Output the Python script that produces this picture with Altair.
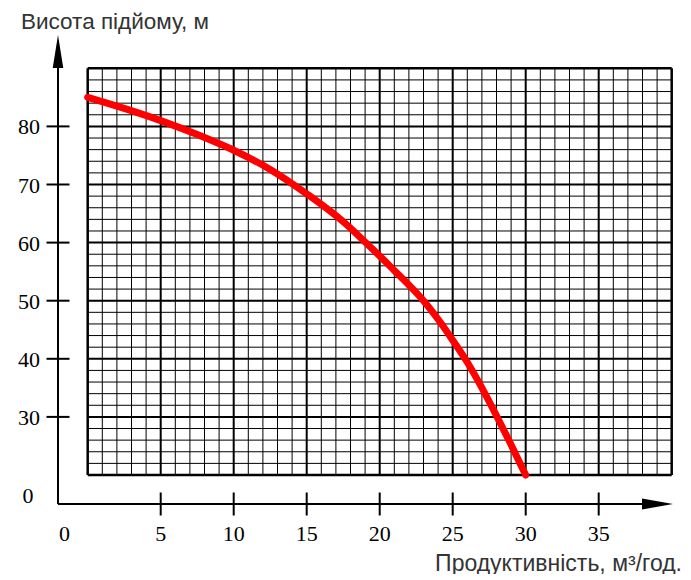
import altair as alt
import pandas as pd

# ---------------- data ----------------
flow = [0, 2.5, 5, 7.5, 10, 12.5, 15, 17.5, 19, 20, 21, 22, 23, 24, 25, 26, 27, 28, 29, 30]
head = [85.0, 83.1, 81.0, 78.6, 75.9, 72.6, 68.4, 63.6, 60.1, 57.7, 55.2, 52.7, 50.0,
        46.8, 43.2, 39.4, 35.0, 30.2, 25.2, 20.0]
x_tick_labels = [5, 10, 15, 20, 25, 30, 35]
y_tick_labels = [30, 40, 50, 60, 70, 80]
x_grid_range = [0, 40]
y_grid_range = [20, 90]
x_minor_step = 1
y_minor_step = 2
x_major_step = 5
y_major_step = 10
x_title = "Продуктивність, м³/год."
y_title = "Висота підйому, м"
zero_label = "0"

# ---------------- layout ----------------
W, H = 675, 566
X0_PX, X_PX_PER = 79.7, 14.6      # svg px of x=0, px per unit
Y20_PX, Y_PX_PER = 467.0, 5.81    # svg px of y=20, px per unit


def xd(px):
    return (px - X0_PX) / X_PX_PER


def yd(py):
    return y_grid_range[0] + (Y20_PX - py) / Y_PX_PER


x_dom = [xd(0), xd(W)]
y_dom = [yd(H), yd(0)]
xs = alt.Scale(domain=x_dom, nice=False, zero=False)
ys = alt.Scale(domain=y_dom, nice=False, zero=False)

AXIS_X = xd(50)
AXIS_Y = yd(496)
VARROW_Y = yd(43.5)
HARROW_X = xd(649.5)

SERIF = "Liberation Serif"
SANS = "Liberation Sans"

# grid tables
xmin, xmax = x_grid_range
ymin, ymax = y_grid_range
vx_minor = [v for v in range(xmin, xmax + 1, x_minor_step) if v % x_major_step]
hy_minor = [v for v in range(ymin, ymax + 1, y_minor_step) if v % y_major_step]
vx_major = [v for v in range(xmin + x_major_step, xmax, x_major_step)]
hy_major = [v for v in range(ymin + y_major_step, ymax, y_major_step)]

X = lambda f: alt.X(f, type="quantitative", scale=xs, axis=None)
Y = lambda f: alt.Y(f, type="quantitative", scale=ys, axis=None)


def vrules(vals, lo, hi, width, color="black"):
    df = pd.DataFrame({"x": vals, "lo": [lo] * len(vals), "hi": [hi] * len(vals)})
    return alt.Chart(df).mark_rule(strokeWidth=width, color=color).encode(
        x=X("x"), y=Y("lo"), y2="hi")


def hrules(vals, lo, hi, width, color="black"):
    df = pd.DataFrame({"y": vals, "lo": [lo] * len(vals), "hi": [hi] * len(vals)})
    return alt.Chart(df).mark_rule(strokeWidth=width, color=color).encode(
        y=Y("y"), x=X("lo"), x2="hi")


layers = []
layers.append(vrules(vx_minor, ymin, ymax, 1))
layers.append(hrules(hy_minor, xmin, xmax, 1))
layers.append(vrules(vx_major, ymin, ymax, 2))
layers.append(hrules(hy_major, xmin, xmax, 2))
layers.append(vrules([xmin, xmax], ymin, ymax, 2.5))
layers.append(hrules([ymin, ymax], xmin, xmax, 2.5))

# curve
curve_df = pd.DataFrame({"q": flow, "h": head})
layers.append(
    alt.Chart(curve_df).mark_line(color="#ff0000", strokeWidth=7, strokeCap="round",
                                  interpolate="monotone").encode(x=X("q"), y=Y("h"))
)

# axes lines
layers.append(vrules([AXIS_X], AXIS_Y, VARROW_Y, 2))
layers.append(hrules([AXIS_Y], AXIS_X, HARROW_X, 2))

# tick marks crossing axes
half = 11.5
layers.append(vrules(x_tick_labels, AXIS_Y - half / Y_PX_PER, AXIS_Y + half / Y_PX_PER, 2))
layers.append(hrules(y_tick_labels, AXIS_X - half / X_PX_PER, AXIS_X + half / X_PX_PER, 2))

# arrows
layers.append(
    alt.Chart(pd.DataFrame({"x": [AXIS_X], "y": [VARROW_Y]})).mark_point(
        shape="M0,-1L0.32,1L-0.32,1Z", filled=True, size=1089, color="black",
        opacity=1, strokeWidth=0).encode(x=X("x"), y=Y("y"))
)
layers.append(
    alt.Chart(pd.DataFrame({"x": [HARROW_X], "y": [AXIS_Y]})).mark_point(
        shape="M1,0L-1,-0.36L-1,0.36Z", filled=True, size=961, color="black",
        opacity=1, strokeWidth=0).encode(x=X("x"), y=Y("y"))
)

# tick labels
xl = pd.DataFrame({"x": x_tick_labels, "y": [AXIS_Y] * len(x_tick_labels),
                   "t": [str(v) for v in x_tick_labels]})
layers.append(
    alt.Chart(xl).mark_text(font=SERIF, fontSize=22, dy=30, align="center",
                            baseline="middle", color="black").encode(
        x=X("x"), y=Y("y"), text="t:N")
)
yl = pd.DataFrame({"x": [AXIS_X] * len(y_tick_labels), "y": y_tick_labels,
                   "t": [str(v) for v in y_tick_labels]})
layers.append(
    alt.Chart(yl).mark_text(font=SERIF, fontSize=22, dx=-18, dy=1, align="right",
                            baseline="middle", color="black").encode(
        x=X("x"), y=Y("y"), text="t:N")
)
z = pd.DataFrame({"x": [AXIS_X], "y": [AXIS_Y], "t": [zero_label]})
layers.append(
    alt.Chart(z).mark_text(font=SERIF, fontSize=22, dx=6.5, dy=30, align="center",
                           baseline="middle", color="black").encode(
        x=X("x"), y=Y("y"), text="t:N")
)
layers.append(
    alt.Chart(z).mark_text(font=SERIF, fontSize=22, dx=-30, dy=-8, align="center",
                           baseline="middle", color="black").encode(
        x=X("x"), y=Y("y"), text="t:N")
)

# titles
layers.append(
    alt.Chart(pd.DataFrame({"t": [y_title]})).mark_text(
        font=SANS, fontSize=22.5, align="left", baseline="alphabetic", color="#333333").encode(
        text="t:N", x=alt.value(13), y=alt.value(20.5))
)
layers.append(
    alt.Chart(pd.DataFrame({"t": [x_title]})).mark_text(
        font=SANS, fontSize=23, align="right", baseline="alphabetic", color="#333333").encode(
        text="t:N", x=alt.value(674), y=alt.value(562.5))
)

chart = alt.layer(*layers).properties(
    width=W, height=H, padding=0, autosize="none", background="white"
).configure_view(stroke=None)

chart.save("out.html", embed_options={"renderer": "svg", "actions": False})
